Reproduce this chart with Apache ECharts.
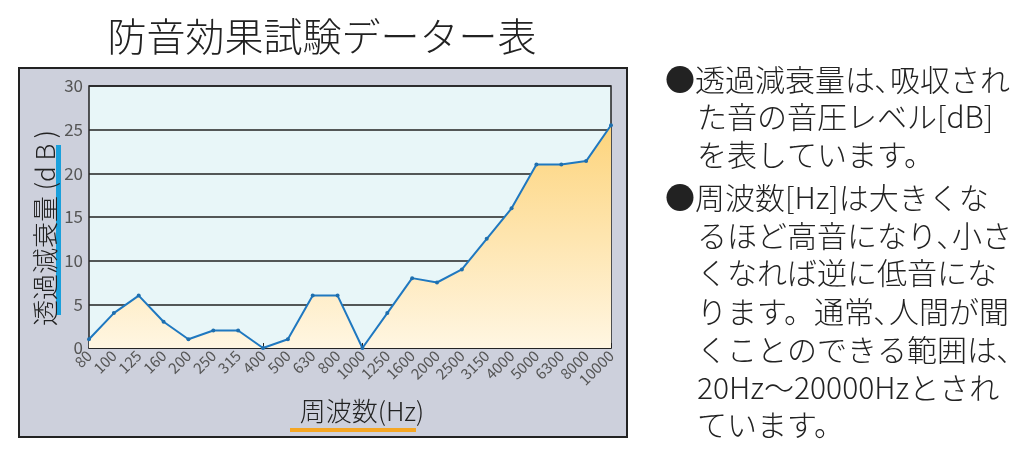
<!DOCTYPE html>
<html><head><meta charset="utf-8">
<script src="https://cdn.jsdelivr.net/npm/echarts@6/dist/echarts.min.js"></script>
<style>html,body{margin:0;background:#fff}#c{width:1030px;height:450px}</style>
</head><body><div id="c"></div>
<script>
// 周波数(Hz)と透過減衰量(dB)
const freqs = ['80','100','125','160','200','250','315','400','500','630','800','1000','1250','1600','2000','2500','3150','4000','5000','6300','8000','10000'];
const attenuation = [1,4,6,3,1,2,2,0,1,6,6,0,4,8,7.5,9,12.5,16,21,21,21.4,25.5];
const noteLines = [
  ['●透過減衰量は､吸収され', 665],
  ['た音の音圧レベル[dB]', 697],
  ['を表しています。', 697],
  ['●周波数[Hz]は大きくな', 665],
  ['るほど高音になり､小さ', 697],
  ['くなれば逆に低音にな', 697],
  ['ります。通常､人間が聞', 697],
  ['くことのできる範囲は､', 697],
  ['20Hz～20000Hzとされ', 697],
  ['ています。', 697]
];
const noteY = [80,117,155,198,236,273,312,350,388,425];
const font = '"Noto Sans CJK JP", sans-serif';

const chart = echarts.init(document.getElementById('c'));
const graphics = [
  { type: 'rect', z: -10, shape: { x: 19, y: 68, width: 608, height: 369 },
    style: { fill: '#cdd0dc', stroke: '#222', lineWidth: 2 } },
  { type: 'text', style: { x: 322, y: 36, text: '防音効果試験データー表', font: '300 39px ' + font, fill: '#222', align: 'center', verticalAlign: 'middle' } },
  { type: 'rect', shape: { x: 56, y: 145, width: 5, height: 170 }, style: { fill: '#1aa0dc' } },
  { type: 'text', x: 45, y: 228, rotation: Math.PI / 2,
    style: { text: '透過減衰量 (d B )', font: '300 26px ' + font, fill: '#222', align: 'center', verticalAlign: 'middle' } },
  { type: 'rect', shape: { x: 290, y: 428, width: 126, height: 4 }, style: { fill: '#f5a623' } },
  { type: 'text', style: { x: 362, y: 411, text: '周波数(Hz)', font: '300 26px ' + font, fill: '#222', align: 'center', verticalAlign: 'middle' } }
];
noteLines.forEach(([t, x], i) => {
  graphics.push({ type: 'text', style: { x: x, y: noteY[i], text: t, font: '300 30px ' + font, fill: '#222', verticalAlign: 'middle' } });
});

chart.setOption({
  animation: false,
  grid: { left: 89, right: 419, top: 86, bottom: 102, show: true, backgroundColor: '#e8f6f8', borderColor: '#222', borderWidth: 1.5 },
  xAxis: {
    type: 'category', data: freqs, boundaryGap: false,
    axisLine: { lineStyle: { color: '#222', width: 1.5 } },
    axisTick: { show: true, length: 5, inside: true, interval: 0, lineStyle: { color: '#222' } },
    axisLabel: { rotate: 45, interval: 0, fontSize: 15, color: '#555', margin: 5, fontFamily: font }
  },
  yAxis: {
    type: 'value', min: 0, max: 30, interval: 5,
    axisLine: { show: false }, axisTick: { show: false },
    splitLine: { lineStyle: { color: '#222', width: 1.5 } },
    axisLabel: { fontSize: 17, color: '#555', margin: 6, fontFamily: font }
  },
  series: [{
    type: 'line', data: attenuation, symbol: 'circle', symbolSize: 4,
    itemStyle: { color: '#1f6fae' },
    lineStyle: { color: '#1f78c0', width: 2 },
    areaStyle: { color: new echarts.graphic.LinearGradient(0, 0, 0, 1, [
      { offset: 0, color: '#fdd47c' }, { offset: 1, color: '#fff6e2' }]), opacity: 1 }
  }],
  graphic: graphics
});
</script></body></html>
